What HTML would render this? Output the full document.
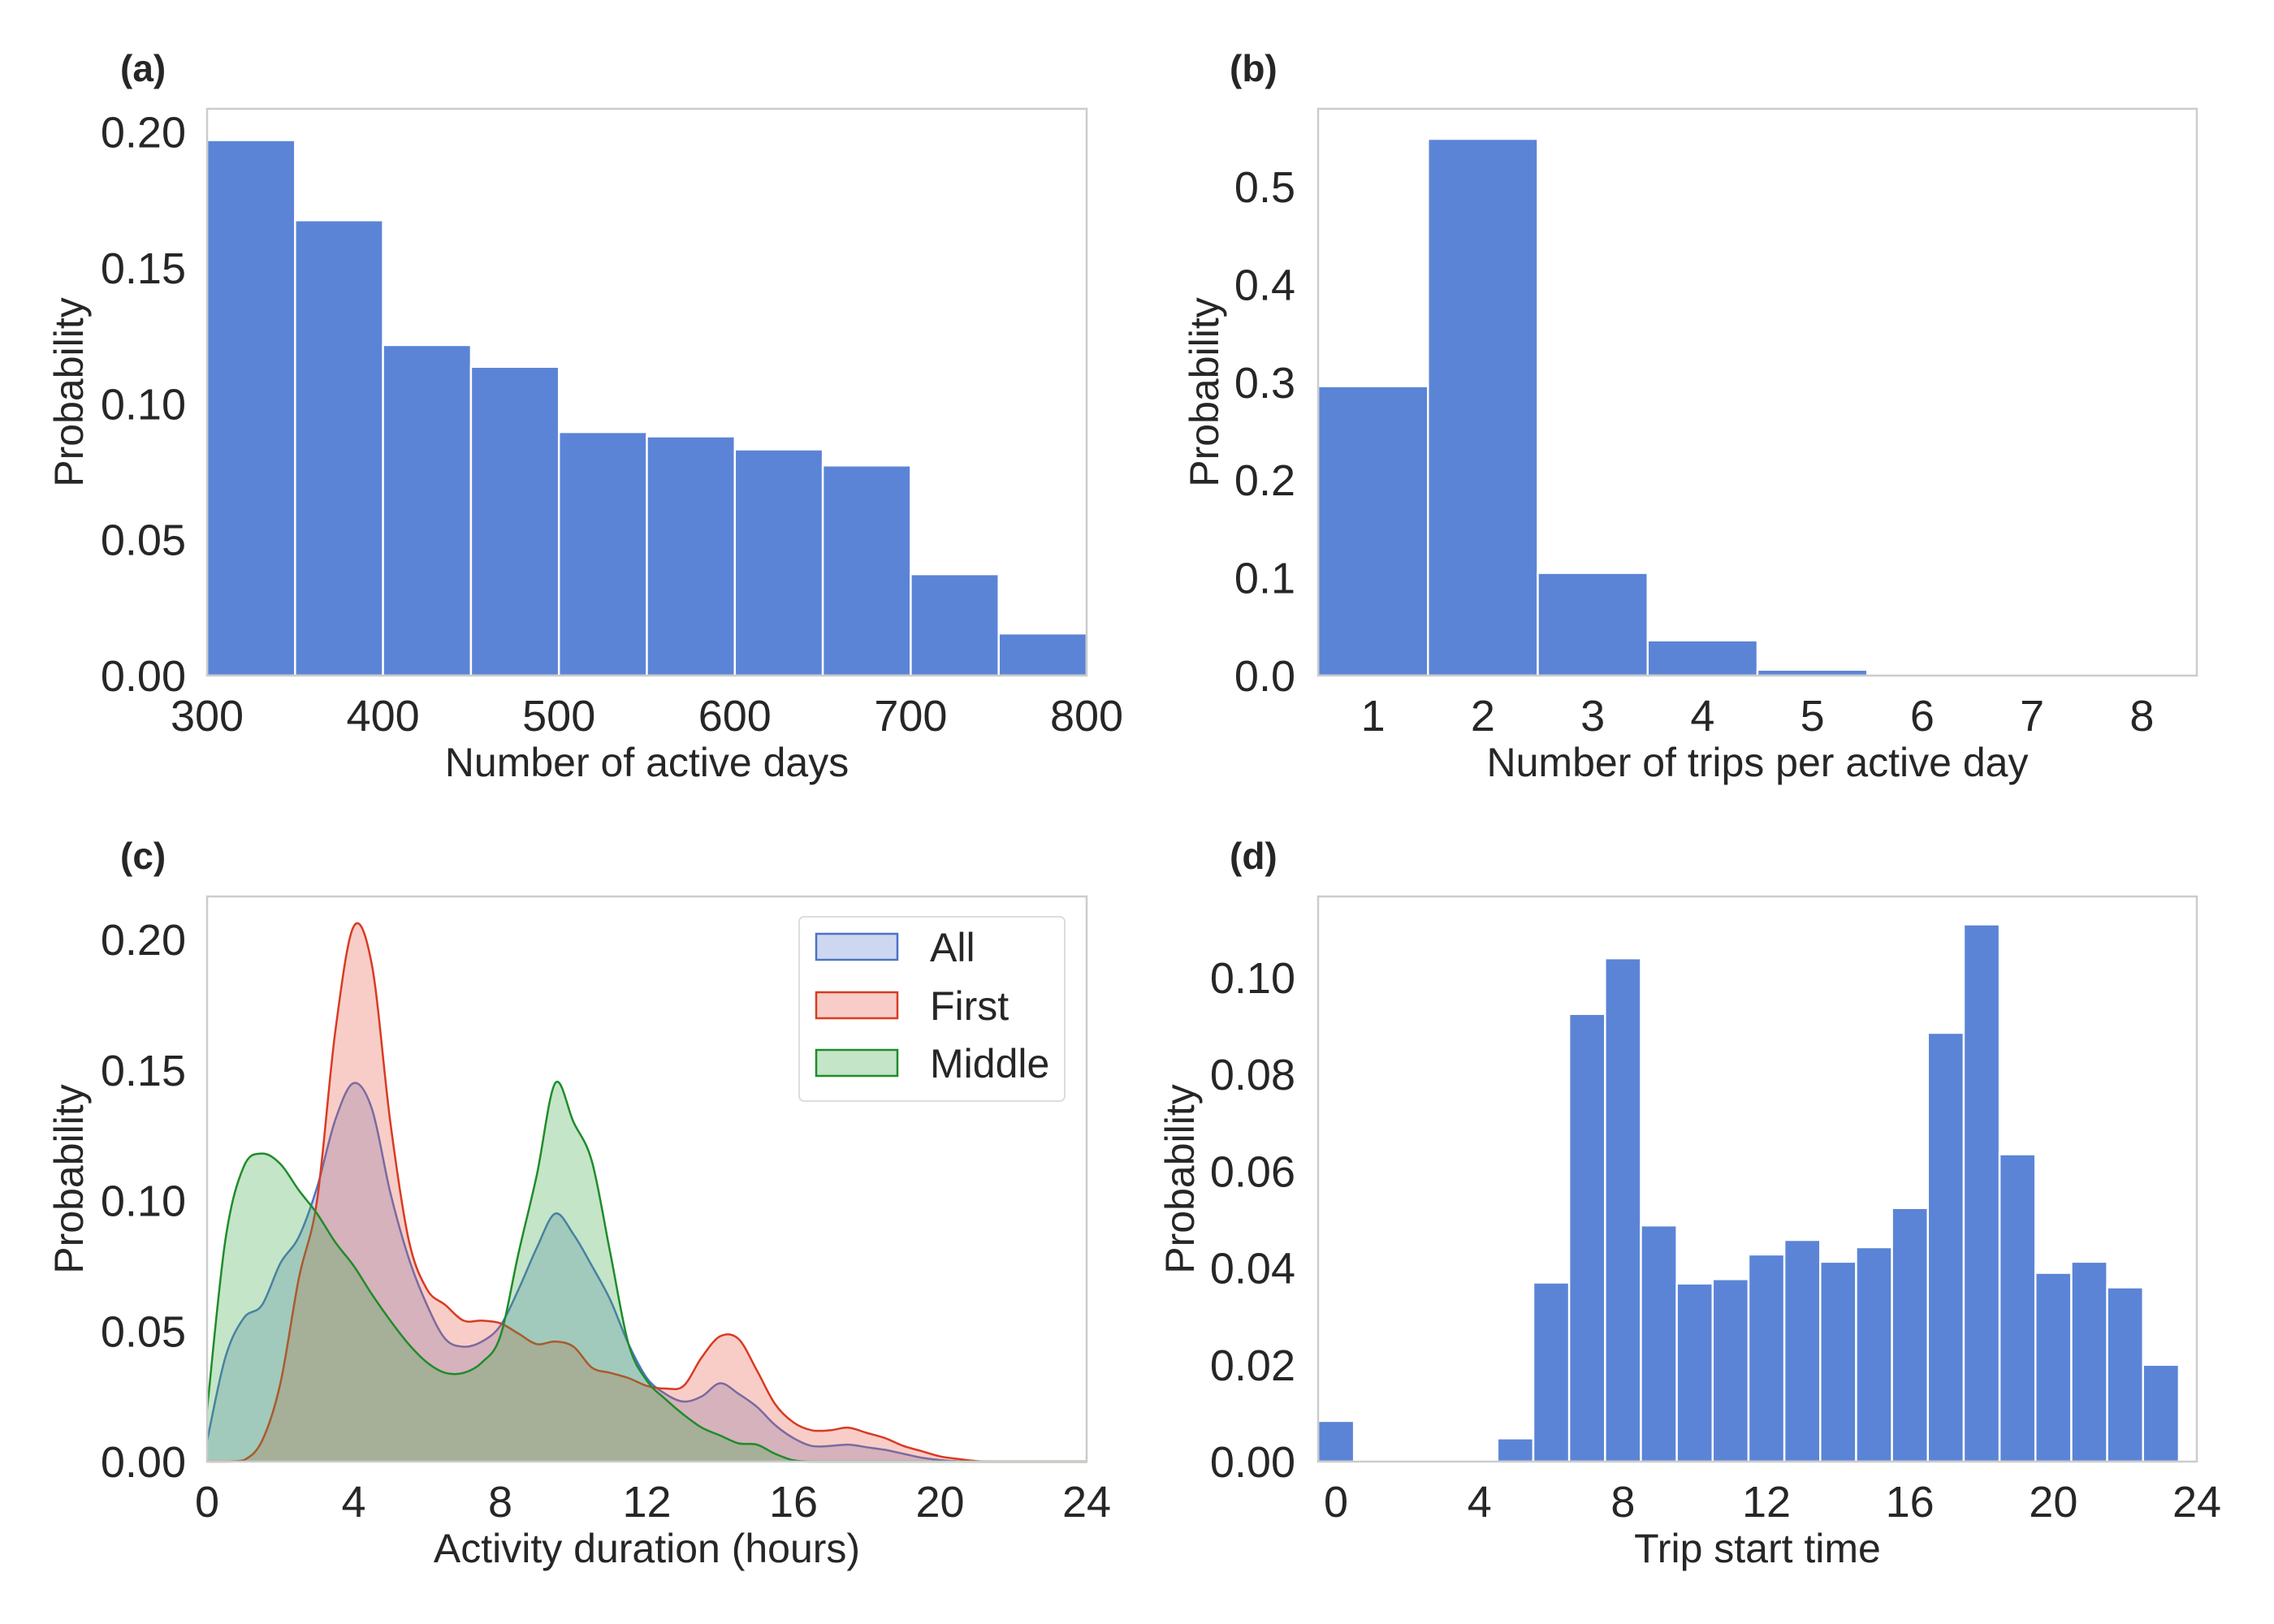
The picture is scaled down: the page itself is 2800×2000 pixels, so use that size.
<!DOCTYPE html>
<html><head><meta charset="utf-8"><style>
html,body{margin:0;padding:0;background:#fff;}
svg{display:block;font-family:"Liberation Sans",Arial,sans-serif;}
</style></head><body>
<svg id="fig" width="2800" height="2000" viewBox="0 0 2800 2000" xmlns="http://www.w3.org/2000/svg"></svg>
<script>
// ---- data ----
const aBinStarts = [300,350,400,450,500,550,600,650,700,750];
const aValues = [0.197,0.1675,0.1216,0.1136,0.0896,0.088,0.0832,0.0773,0.0373,0.0155];
const aXTicks = [300,400,500,600,700,800];
const aYTicks = ["0.00","0.05","0.10","0.15","0.20"];

const bCategories = [1,2,3,4,5,6,7,8];
const bValues = [0.296,0.549,0.105,0.036,0.006,0,0,0];
const bYTicks = ["0.0","0.1","0.2","0.3","0.4","0.5"];

const cX = [0,0.5,1,1.5,2,2.5,3,3.5,4,4.5,5,5.5,6,6.5,7,7.5,8,8.5,9,9.5,10,10.5,11,11.5,12,12.5,13,13.5,14,14.5,15,15.5,16,16.5,17,17.5,18,18.5,19,19.5,20,20.5,21,21.5,22,22.5,23,23.5,24];
const cAll = [0.008,0.04,0.055,0.06,0.076,0.086,0.105,0.131,0.145,0.135,0.103,0.078,0.06,0.047,0.044,0.046,0.052,0.066,0.082,0.095,0.087,0.075,0.062,0.045,0.032,0.026,0.023,0.025,0.03,0.026,0.021,0.014,0.009,0.006,0.006,0.0065,0.0055,0.0045,0.003,0.0015,0.0006,0.0001,0,0,0,0,0,0,0];
const cFirst = [0,0,0.0005,0.008,0.03,0.07,0.1,0.165,0.205,0.19,0.13,0.085,0.066,0.06,0.054,0.054,0.053,0.049,0.045,0.046,0.044,0.036,0.034,0.032,0.029,0.028,0.029,0.04,0.048,0.047,0.035,0.022,0.015,0.012,0.012,0.013,0.011,0.009,0.006,0.004,0.002,0.001,0.0002,0,0,0,0,0,0];
const cMiddle = [0.02,0.085,0.113,0.118,0.114,0.104,0.095,0.084,0.075,0.064,0.054,0.045,0.038,0.034,0.034,0.038,0.048,0.08,0.11,0.145,0.13,0.115,0.08,0.045,0.031,0.024,0.018,0.013,0.01,0.007,0.0065,0.003,0.0005,0,0,0,0,0,0,0,0,0,0,0,0,0,0,0,0];
const cXTicks = [0,4,8,12,16,20,24];
const cYTicks = ["0.00","0.05","0.10","0.15","0.20"];

const dHours = [0,1,2,3,4,5,6,7,8,9,10,11,12,13,14,15,16,17,18,19,20,21,22,23];
const dValues = [0.0084,0,0,0,0,0.0048,0.037,0.0925,0.104,0.0488,0.0368,0.0377,0.0428,0.0458,0.0413,0.0443,0.0524,0.0886,0.111,0.0635,0.039,0.0413,0.036,0.020];
const dXTicks = [0,4,8,12,16,20,24];
const dYTicks = ["0.00","0.02","0.04","0.06","0.08","0.10"];

// ---- helpers ----
const svg = document.getElementById('fig');
const NS = 'http://www.w3.org/2000/svg';
function mk(tag, attrs, parent){ const e=document.createElementNS(NS,tag); for(const k in attrs) e.setAttribute(k,attrs[k]); (parent||svg).appendChild(e); return e; }
function lin(d0,d1,r0,r1){ return v => r0 + (v-d0)/(d1-d0)*(r1-r0); }
const BAR = '#5b84d6';
const TICKFS = 54, LABFS = 50;

function frame(g, L,R,T,B){
  const f = mk('rect',{x:L,y:T,width:R-L,height:B-T,fill:'none',stroke:'#cccccc','stroke-width':2.5},g);
  
  
}
function yticks(g, labels, y, xRight){
  labels.forEach(t=>{
    const e = mk('text',{x:xRight,y:y(parseFloat(t))+19,'text-anchor':'end','font-size':TICKFS,fill:'#262626'},g);
    e.textContent=t;
    
    
  });
}
function xticks(g, vals, x, yBase){
  vals.forEach(v=>{
    const e = mk('text',{x:x(v),y:yBase,'text-anchor':'middle','font-size':TICKFS,fill:'#262626'},g);
    e.textContent=String(v);
    
    
  });
}
function labels(g, xl, xlx, xly, yl, ylx, yly, pl, plx, ply){
  let e = mk('text',{x:xlx,y:xly,'text-anchor':'middle','font-size':LABFS,fill:'#262626'},g);
  e.textContent=xl;  
  e = mk('text',{x:ylx,y:yly,'text-anchor':'middle','font-size':LABFS,fill:'#262626',transform:`rotate(-90 ${ylx} ${yly})`},g);
  e.textContent=yl;  
  e = mk('text',{x:plx,y:ply,'font-size':46,'font-weight':'bold',fill:'#262626'},g);
  e.textContent=pl;  
}
function bar(g, x0,x1,y0,y1){
  const b = mk('rect',{x:x0,y:y1,width:x1-x0,height:y0-y1,fill:BAR,stroke:'#ffffff','stroke-width':2.5},g);
  
  
}

// ---- panel a ----
{
  const g = mk('g',{});  
  const L=255,R=1338,T=134,B=832;
  const x=lin(300,800,L,R), y=lin(0,0.2,B,162.5);
  aBinStarts.forEach((s,i)=>bar(g,x(s),x(s+50),y(0),y(aValues[i])));
  frame(g,L,R,T,B);
  yticks(g,aYTicks,y,229);
  xticks(g,aXTicks,x,900);
  labels(g,'Number of active days',(L+R)/2,956,'Probability',102,(T+B)/2,'(a)',148,100);
}
// ---- panel b ----
{
  const g = mk('g',{});  
  const L=1623,R=2705,T=134,B=832;
  const x=lin(0.5,8.5,L,R), y=lin(0,0.5,B,230);
  bCategories.forEach((c,i)=>{ if(bValues[i]>0) bar(g,x(c-0.5),x(c+0.5),y(0),y(bValues[i])); });
  frame(g,L,R,T,B);
  yticks(g,bYTicks,y,1595);
  xticks(g,bCategories,x,900);
  labels(g,'Number of trips per active day',(L+R)/2,956,'Probability',1500,(T+B)/2,'(b)',1514,100);
}
// ---- panel c ----
{
  const g = mk('g',{});  
  const L=255,R=1338,T=1104,B=1800;
  const x=lin(0,24,L,R), y=lin(0,0.2,B,1157);
  function smooth(vals){
    const p = cX.map((v,i)=>[x(v),y(vals[i])]);
    let d = `M${p[0][0]},${p[0][1]}`;
    for(let i=0;i<p.length-1;i++){
      const p0=p[Math.max(0,i-1)],p1=p[i],p2=p[i+1],p3=p[Math.min(p.length-1,i+2)];
      let c1y=p1[1]+(p2[1]-p0[1])/6, c2y=p2[1]-(p3[1]-p1[1])/6;
      c1y=Math.min(c1y,B); c2y=Math.min(c2y,B);
      d+=` C${p1[0]+(p2[0]-p0[0])/6},${c1y} ${p2[0]-(p3[0]-p1[0])/6},${c2y} ${p2[0]},${p2[1]}`;
    }
    return d;
  }
  const series = [['all',cAll,'#4c72c8','rgba(76,114,200,0.28)'],['first',cFirst,'#d93a22','rgba(232,90,70,0.30)'],['middle',cMiddle,'#1e8c2a','rgba(60,170,70,0.30)']];
  series.forEach(([n,vals,line,fill])=>{
    const d = smooth(vals);
    const a = mk('path',{d:d+` L${x(24)},${B} L${x(0)},${B} Z`,fill:fill,stroke:'none'},g);
    
    
    const l = mk('path',{d:d,fill:'none',stroke:line,'stroke-width':2.5},g);
    
    
  });
  frame(g,L,R,T,B);
  yticks(g,cYTicks,y,229);
  xticks(g,cXTicks,x,1868);
  labels(g,'Activity duration (hours)',(L+R)/2,1924,'Probability',102,(T+B)/2,'(c)',148,1070);
  const lg = mk('g',{},g);  
  mk('rect',{x:984,y:1129,width:327,height:227,rx:6,fill:'#ffffff',stroke:'#dddddd','stroke-width':2},lg);
  const names=['All','First','Middle'], ys=[1166,1238,1309];
  series.forEach((s,i)=>{
    const r = mk('rect',{x:1005,y:ys[i]-16,width:100,height:32,fill:s[3],stroke:s[2],'stroke-width':2.5},lg);
    
    
    const t = mk('text',{x:1145,y:ys[i]+18,'font-size':50,fill:'#262626'},lg);
    t.textContent=names[i];
    
    
  });
}
// ---- panel d ----
{
  const g = mk('g',{});  
  const L=1623,R=2705,T=1104,B=1800;
  const x=lin(-0.5,24,L,R), y=lin(0,0.1,B,1204);
  dHours.forEach((h,i)=>{ if(dValues[i]>0) bar(g,x(h-0.5),x(h+0.5),y(0),y(dValues[i])); });
  frame(g,L,R,T,B);
  yticks(g,dYTicks,y,1595);
  xticks(g,dXTicks,x,1868);
  labels(g,'Trip start time',(L+R)/2,1924,'Probability',1470,(T+B)/2,'(d)',1514,1070);
}
</script>
</body></html>
